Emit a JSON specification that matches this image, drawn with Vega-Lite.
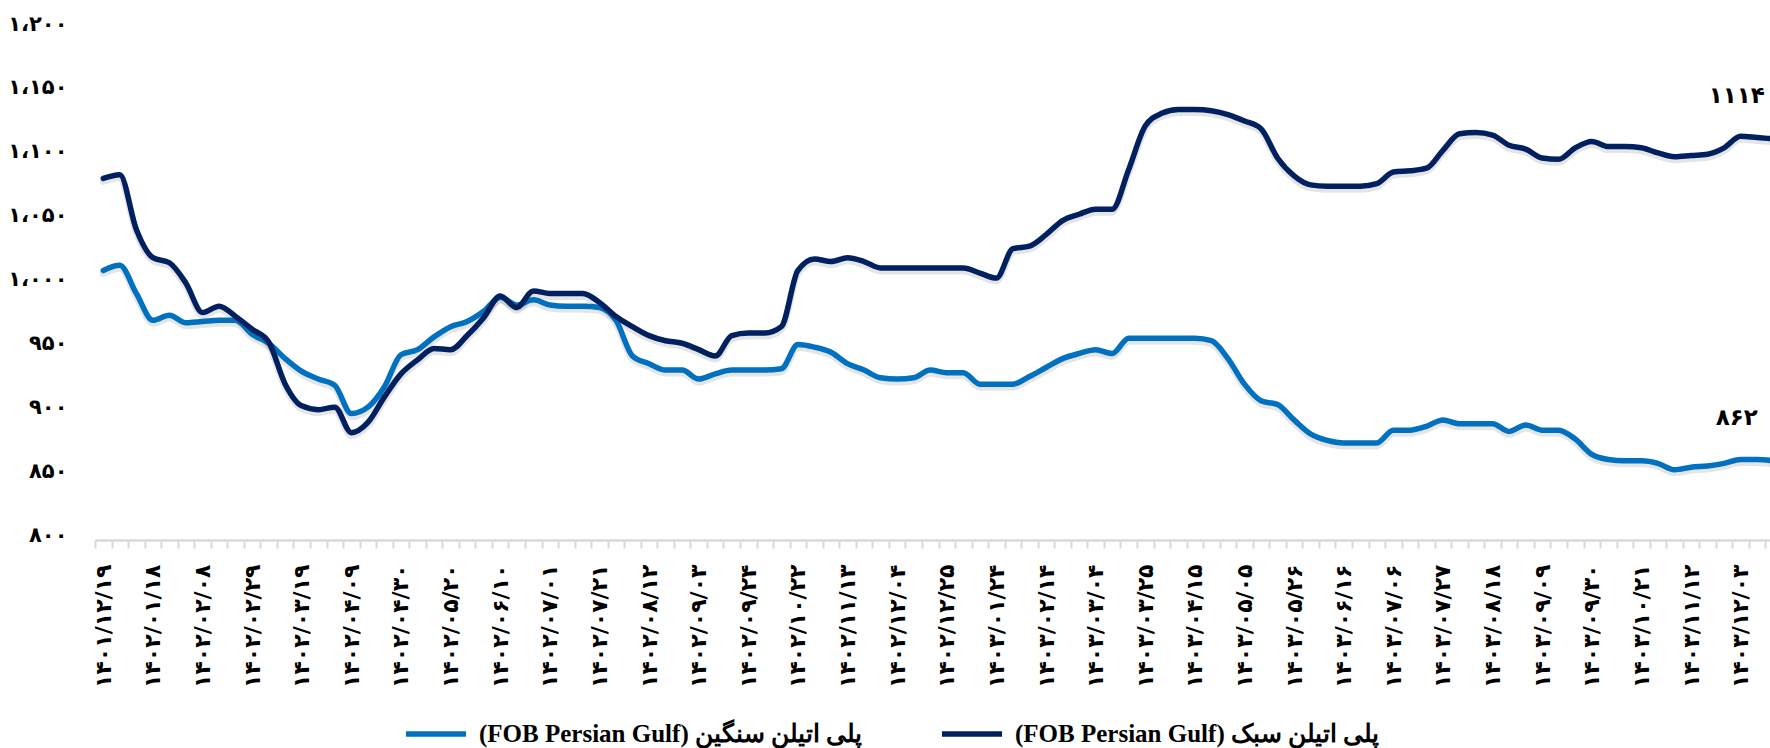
{
  "$schema": "https://vega.github.io/schema/vega-lite/v6.json",
  "width": 1675,
  "height": 511,
  "autosize": {"type": "none"},
  "padding": {"left": 95, "top": 29, "right": 0, "bottom": 208},
  "background": "white",
  "config": {"view": {"stroke": null}, "font": "DejaVu Sans"},
  "datasets": {
    "prices": [
      {"date":"۱۴۰۱/۱۲/۱۹","series":"سبک","price":1083},{"date":"۱۴۰۱/۱۲/۲۶","series":"سبک","price":1086},{"date":"۱۴۰۲/۰۱/۱۱","series":"سبک","price":1043},{"date":"۱۴۰۲/۰۱/۱۸","series":"سبک","price":1021},{"date":"۱۴۰۲/۰۱/۲۵","series":"سبک","price":1017},{"date":"۱۴۰۲/۰۲/۰۱","series":"سبک","price":1001},{"date":"۱۴۰۲/۰۲/۰۸","series":"سبک","price":978},{"date":"۱۴۰۲/۰۲/۱۵","series":"سبک","price":983},{"date":"۱۴۰۲/۰۲/۲۲","series":"سبک","price":975},{"date":"۱۴۰۲/۰۲/۲۹","series":"سبک","price":965},
      {"date":"۱۴۰۲/۰۳/۰۵","series":"سبک","price":955},{"date":"۱۴۰۲/۰۳/۱۲","series":"سبک","price":922},{"date":"۱۴۰۲/۰۳/۱۹","series":"سبک","price":905},{"date":"۱۴۰۲/۰۳/۲۶","series":"سبک","price":902},{"date":"۱۴۰۲/۰۴/۰۲","series":"سبک","price":904},{"date":"۱۴۰۲/۰۴/۰۹","series":"سبک","price":884},{"date":"۱۴۰۲/۰۴/۱۶","series":"سبک","price":892},{"date":"۱۴۰۲/۰۴/۲۳","series":"سبک","price":912},{"date":"۱۴۰۲/۰۴/۳۰","series":"سبک","price":930},{"date":"۱۴۰۲/۰۵/۰۶","series":"سبک","price":941},
      {"date":"۱۴۰۲/۰۵/۱۳","series":"سبک","price":950},{"date":"۱۴۰۲/۰۵/۲۰","series":"سبک","price":949},{"date":"۱۴۰۲/۰۵/۲۷","series":"سبک","price":960},{"date":"۱۴۰۲/۰۶/۰۳","series":"سبک","price":974},{"date":"۱۴۰۲/۰۶/۱۰","series":"سبک","price":991},{"date":"۱۴۰۲/۰۶/۱۷","series":"سبک","price":982},{"date":"۱۴۰۲/۰۶/۲۴","series":"سبک","price":995},{"date":"۱۴۰۲/۰۷/۰۱","series":"سبک","price":993},{"date":"۱۴۰۲/۰۷/۰۷","series":"سبک","price":993},{"date":"۱۴۰۲/۰۷/۱۴","series":"سبک","price":993},
      {"date":"۱۴۰۲/۰۷/۲۱","series":"سبک","price":986},{"date":"۱۴۰۲/۰۷/۲۸","series":"سبک","price":975},{"date":"۱۴۰۲/۰۸/۰۵","series":"سبک","price":967},{"date":"۱۴۰۲/۰۸/۱۲","series":"سبک","price":960},{"date":"۱۴۰۲/۰۸/۱۹","series":"سبک","price":956},{"date":"۱۴۰۲/۰۸/۲۶","series":"سبک","price":954},{"date":"۱۴۰۲/۰۹/۰۳","series":"سبک","price":949},{"date":"۱۴۰۲/۰۹/۱۰","series":"سبک","price":944},{"date":"۱۴۰۲/۰۹/۱۷","series":"سبک","price":960},{"date":"۱۴۰۲/۰۹/۲۴","series":"سبک","price":962},
      {"date":"۱۴۰۲/۱۰/۰۱","series":"سبک","price":962},{"date":"۱۴۰۲/۱۰/۱۵","series":"سبک","price":967},{"date":"۱۴۰۲/۱۰/۲۲","series":"سبک","price":1011},{"date":"۱۴۰۲/۱۰/۲۹","series":"سبک","price":1020},{"date":"۱۴۰۲/۱۱/۰۶","series":"سبک","price":1018},{"date":"۱۴۰۲/۱۱/۱۳","series":"سبک","price":1021},{"date":"۱۴۰۲/۱۱/۲۰","series":"سبک","price":1018},{"date":"۱۴۰۲/۱۱/۲۷","series":"سبک","price":1013},{"date":"۱۴۰۲/۱۲/۰۴","series":"سبک","price":1013},{"date":"۱۴۰۲/۱۲/۱۱","series":"سبک","price":1013},
      {"date":"۱۴۰۲/۱۲/۱۸","series":"سبک","price":1013},{"date":"۱۴۰۲/۱۲/۲۵","series":"سبک","price":1013},{"date":"۱۴۰۳/۰۱/۱۰","series":"سبک","price":1013},{"date":"۱۴۰۳/۰۱/۱۷","series":"سبک","price":1009},{"date":"۱۴۰۳/۰۱/۲۴","series":"سبک","price":1005},{"date":"۱۴۰۳/۰۱/۳۱","series":"سبک","price":1028},{"date":"۱۴۰۳/۰۲/۰۷","series":"سبک","price":1030},{"date":"۱۴۰۳/۰۲/۱۴","series":"سبک","price":1039},{"date":"۱۴۰۳/۰۲/۲۱","series":"سبک","price":1050},{"date":"۱۴۰۳/۰۲/۲۸","series":"سبک","price":1055},
      {"date":"۱۴۰۳/۰۳/۰۴","series":"سبک","price":1059},{"date":"۱۴۰۳/۰۳/۱۱","series":"سبک","price":1059},{"date":"۱۴۰۳/۰۳/۱۸","series":"سبک","price":1090},{"date":"۱۴۰۳/۰۳/۲۵","series":"سبک","price":1124},{"date":"۱۴۰۳/۰۴/۰۱","series":"سبک","price":1134},{"date":"۱۴۰۳/۰۴/۰۸","series":"سبک","price":1137},{"date":"۱۴۰۳/۰۴/۱۵","series":"سبک","price":1137},{"date":"۱۴۰۳/۰۴/۲۲","series":"سبک","price":1136},{"date":"۱۴۰۳/۰۴/۲۹","series":"سبک","price":1133},{"date":"۱۴۰۳/۰۵/۰۵","series":"سبک","price":1128},
      {"date":"۱۴۰۳/۰۵/۱۲","series":"سبک","price":1122},{"date":"۱۴۰۳/۰۵/۱۹","series":"سبک","price":1099},{"date":"۱۴۰۳/۰۵/۲۶","series":"سبک","price":1085},{"date":"۱۴۰۳/۰۶/۰۲","series":"سبک","price":1078},{"date":"۱۴۰۳/۰۶/۰۹","series":"سبک","price":1077},{"date":"۱۴۰۳/۰۶/۱۶","series":"سبک","price":1077},{"date":"۱۴۰۳/۰۶/۲۳","series":"سبک","price":1077},{"date":"۱۴۰۳/۰۶/۳۰","series":"سبک","price":1079},{"date":"۱۴۰۳/۰۷/۰۶","series":"سبک","price":1088},{"date":"۱۴۰۳/۰۷/۱۳","series":"سبک","price":1089},
      {"date":"۱۴۰۳/۰۷/۲۰","series":"سبک","price":1091},{"date":"۱۴۰۳/۰۷/۲۷","series":"سبک","price":1105},{"date":"۱۴۰۳/۰۸/۰۴","series":"سبک","price":1118},{"date":"۱۴۰۳/۰۸/۱۱","series":"سبک","price":1119},{"date":"۱۴۰۳/۰۸/۱۸","series":"سبک","price":1117},{"date":"۱۴۰۳/۰۸/۲۵","series":"سبک","price":1109},{"date":"۱۴۰۳/۰۹/۰۲","series":"سبک","price":1106},{"date":"۱۴۰۳/۰۹/۰۹","series":"سبک","price":1099},{"date":"۱۴۰۳/۰۹/۱۶","series":"سبک","price":1098},{"date":"۱۴۰۳/۰۹/۲۳","series":"سبک","price":1107},
      {"date":"۱۴۰۳/۰۹/۳۰","series":"سبک","price":1112},{"date":"۱۴۰۳/۱۰/۰۷","series":"سبک","price":1108},{"date":"۱۴۰۳/۱۰/۱۴","series":"سبک","price":1108},{"date":"۱۴۰۳/۱۰/۲۱","series":"سبک","price":1107},{"date":"۱۴۰۳/۱۰/۲۸","series":"سبک","price":1103},{"date":"۱۴۰۳/۱۱/۰۵","series":"سبک","price":1100},{"date":"۱۴۰۳/۱۱/۱۲","series":"سبک","price":1101},{"date":"۱۴۰۳/۱۱/۱۹","series":"سبک","price":1102},{"date":"۱۴۰۳/۱۱/۲۶","series":"سبک","price":1107},{"date":"۱۴۰۳/۱۲/۰۳","series":"سبک","price":1116},
      {"date":"۱۴۰۳/۱۲/۱۰","series":"سبک","price":1115},{"date":"۱۴۰۳/۱۲/۱۷","series":"سبک","price":1114},

      {"date":"۱۴۰۱/۱۲/۱۹","series":"سنگین","price":1011},{"date":"۱۴۰۱/۱۲/۲۶","series":"سنگین","price":1015},{"date":"۱۴۰۲/۰۱/۱۱","series":"سنگین","price":993},{"date":"۱۴۰۲/۰۱/۱۸","series":"سنگین","price":972},{"date":"۱۴۰۲/۰۱/۲۵","series":"سنگین","price":976},{"date":"۱۴۰۲/۰۲/۰۱","series":"سنگین","price":970},{"date":"۱۴۰۲/۰۲/۰۸","series":"سنگین","price":971},{"date":"۱۴۰۲/۰۲/۱۵","series":"سنگین","price":972},{"date":"۱۴۰۲/۰۲/۲۲","series":"سنگین","price":972},{"date":"۱۴۰۲/۰۲/۲۹","series":"سنگین","price":961},
      {"date":"۱۴۰۲/۰۳/۰۵","series":"سنگین","price":954},{"date":"۱۴۰۲/۰۳/۱۲","series":"سنگین","price":942},{"date":"۱۴۰۲/۰۳/۱۹","series":"سنگین","price":932},{"date":"۱۴۰۲/۰۳/۲۶","series":"سنگین","price":926},{"date":"۱۴۰۲/۰۴/۰۲","series":"سنگین","price":921},{"date":"۱۴۰۲/۰۴/۰۹","series":"سنگین","price":899},{"date":"۱۴۰۲/۰۴/۱۶","series":"سنگین","price":904},{"date":"۱۴۰۲/۰۴/۲۳","series":"سنگین","price":920},{"date":"۱۴۰۲/۰۴/۳۰","series":"سنگین","price":945},{"date":"۱۴۰۲/۰۵/۰۶","series":"سنگین","price":949},
      {"date":"۱۴۰۲/۰۵/۱۳","series":"سنگین","price":959},{"date":"۱۴۰۲/۰۵/۲۰","series":"سنگین","price":967},{"date":"۱۴۰۲/۰۵/۲۷","series":"سنگین","price":971},{"date":"۱۴۰۲/۰۶/۰۳","series":"سنگین","price":979},{"date":"۱۴۰۲/۰۶/۱۰","series":"سنگین","price":990},{"date":"۱۴۰۲/۰۶/۱۷","series":"سنگین","price":984},{"date":"۱۴۰۲/۰۶/۲۴","series":"سنگین","price":988},{"date":"۱۴۰۲/۰۷/۰۱","series":"سنگین","price":984},{"date":"۱۴۰۲/۰۷/۰۷","series":"سنگین","price":983},{"date":"۱۴۰۲/۰۷/۱۴","series":"سنگین","price":983},
      {"date":"۱۴۰۲/۰۷/۲۱","series":"سنگین","price":982},{"date":"۱۴۰۲/۰۷/۲۸","series":"سنگین","price":972},{"date":"۱۴۰۲/۰۸/۰۵","series":"سنگین","price":944},{"date":"۱۴۰۲/۰۸/۱۲","series":"سنگین","price":938},{"date":"۱۴۰۲/۰۸/۱۹","series":"سنگین","price":933},{"date":"۱۴۰۲/۰۸/۲۶","series":"سنگین","price":933},{"date":"۱۴۰۲/۰۹/۰۳","series":"سنگین","price":926},{"date":"۱۴۰۲/۰۹/۱۰","series":"سنگین","price":930},{"date":"۱۴۰۲/۰۹/۱۷","series":"سنگین","price":933},{"date":"۱۴۰۲/۰۹/۲۴","series":"سنگین","price":933},
      {"date":"۱۴۰۲/۱۰/۰۱","series":"سنگین","price":933},{"date":"۱۴۰۲/۱۰/۱۵","series":"سنگین","price":934},{"date":"۱۴۰۲/۱۰/۲۲","series":"سنگین","price":953},{"date":"۱۴۰۲/۱۰/۲۹","series":"سنگین","price":951},{"date":"۱۴۰۲/۱۱/۰۶","series":"سنگین","price":947},{"date":"۱۴۰۲/۱۱/۱۳","series":"سنگین","price":938},{"date":"۱۴۰۲/۱۱/۲۰","series":"سنگین","price":933},{"date":"۱۴۰۲/۱۱/۲۷","series":"سنگین","price":927},{"date":"۱۴۰۲/۱۲/۰۴","series":"سنگین","price":926},{"date":"۱۴۰۲/۱۲/۱۱","series":"سنگین","price":927},
      {"date":"۱۴۰۲/۱۲/۱۸","series":"سنگین","price":933},{"date":"۱۴۰۲/۱۲/۲۵","series":"سنگین","price":931},{"date":"۱۴۰۳/۰۱/۱۰","series":"سنگین","price":931},{"date":"۱۴۰۳/۰۱/۱۷","series":"سنگین","price":922},{"date":"۱۴۰۳/۰۱/۲۴","series":"سنگین","price":922},{"date":"۱۴۰۳/۰۱/۳۱","series":"سنگین","price":922},{"date":"۱۴۰۳/۰۲/۰۷","series":"سنگین","price":928},{"date":"۱۴۰۳/۰۲/۱۴","series":"سنگین","price":935},{"date":"۱۴۰۳/۰۲/۲۱","series":"سنگین","price":942},{"date":"۱۴۰۳/۰۲/۲۸","series":"سنگین","price":946},
      {"date":"۱۴۰۳/۰۳/۰۴","series":"سنگین","price":949},{"date":"۱۴۰۳/۰۳/۱۱","series":"سنگین","price":946},{"date":"۱۴۰۳/۰۳/۱۸","series":"سنگین","price":958},{"date":"۱۴۰۳/۰۳/۲۵","series":"سنگین","price":958},{"date":"۱۴۰۳/۰۴/۰۱","series":"سنگین","price":958},{"date":"۱۴۰۳/۰۴/۰۸","series":"سنگین","price":958},{"date":"۱۴۰۳/۰۴/۱۵","series":"سنگین","price":958},{"date":"۱۴۰۳/۰۴/۲۲","series":"سنگین","price":956},{"date":"۱۴۰۳/۰۴/۲۹","series":"سنگین","price":942},{"date":"۱۴۰۳/۰۵/۰۵","series":"سنگین","price":922},
      {"date":"۱۴۰۳/۰۵/۱۲","series":"سنگین","price":909},{"date":"۱۴۰۳/۰۵/۱۹","series":"سنگین","price":906},{"date":"۱۴۰۳/۰۵/۲۶","series":"سنگین","price":894},{"date":"۱۴۰۳/۰۶/۰۲","series":"سنگین","price":883},{"date":"۱۴۰۳/۰۶/۰۹","series":"سنگین","price":878},{"date":"۱۴۰۳/۰۶/۱۶","series":"سنگین","price":876},{"date":"۱۴۰۳/۰۶/۲۳","series":"سنگین","price":876},{"date":"۱۴۰۳/۰۶/۳۰","series":"سنگین","price":876},{"date":"۱۴۰۳/۰۷/۰۶","series":"سنگین","price":886},{"date":"۱۴۰۳/۰۷/۱۳","series":"سنگین","price":886},
      {"date":"۱۴۰۳/۰۷/۲۰","series":"سنگین","price":889},{"date":"۱۴۰۳/۰۷/۲۷","series":"سنگین","price":894},{"date":"۱۴۰۳/۰۸/۰۴","series":"سنگین","price":891},{"date":"۱۴۰۳/۰۸/۱۱","series":"سنگین","price":891},{"date":"۱۴۰۳/۰۸/۱۸","series":"سنگین","price":891},{"date":"۱۴۰۳/۰۸/۲۵","series":"سنگین","price":885},{"date":"۱۴۰۳/۰۹/۰۲","series":"سنگین","price":890},{"date":"۱۴۰۳/۰۹/۰۹","series":"سنگین","price":886},{"date":"۱۴۰۳/۰۹/۱۶","series":"سنگین","price":886},{"date":"۱۴۰۳/۰۹/۲۳","series":"سنگین","price":879},
      {"date":"۱۴۰۳/۰۹/۳۰","series":"سنگین","price":867},{"date":"۱۴۰۳/۱۰/۰۷","series":"سنگین","price":863},{"date":"۱۴۰۳/۱۰/۱۴","series":"سنگین","price":862},{"date":"۱۴۰۳/۱۰/۲۱","series":"سنگین","price":862},{"date":"۱۴۰۳/۱۰/۲۸","series":"سنگین","price":860},{"date":"۱۴۰۳/۱۱/۰۵","series":"سنگین","price":855},{"date":"۱۴۰۳/۱۱/۱۲","series":"سنگین","price":857},{"date":"۱۴۰۳/۱۱/۱۹","series":"سنگین","price":858},{"date":"۱۴۰۳/۱۱/۲۶","series":"سنگین","price":860},{"date":"۱۴۰۳/۱۲/۰۳","series":"سنگین","price":863},
      {"date":"۱۴۰۳/۱۲/۱۰","series":"سنگین","price":863},{"date":"۱۴۰۳/۱۲/۱۷","series":"سنگین","price":862}
    ],
    "ends": [
      {"date":"۱۴۰۳/۱۲/۱۷","price":1114,"label":"۱۱۱۴"},
      {"date":"۱۴۰۳/۱۲/۱۷","price":862,"label":"۸۶۲"}
    ]
  },
  "encoding": {
    "x": {
      "field": "date", "type": "ordinal", "sort": null,
      "scale": {"range": [0, 1687], "paddingInner": 0, "paddingOuter": 0},
      "axis": {
        "title": null,
        "domainColor": "#d9d9d9", "domainWidth": 2.5,
        "tickColor": "#d9d9d9", "tickWidth": 2, "tickSize": 8, "tickBand": "extent",
        "labelAngle": -90, "labelAlign": "right", "labelBaseline": "middle",
        "labelPadding": 16, "labelFontSize": 22, "labelFontWeight": "bold", "labelColor": "#000000",
        "labelFont": "DejaVu Sans", "labelOverlap": false, "labelLimit": 300,
        "labelExpr": "indexof(['۱۴۰۱/۱۲/۱۹','۱۴۰۲/۰۱/۱۸','۱۴۰۲/۰۲/۰۸','۱۴۰۲/۰۲/۲۹','۱۴۰۲/۰۳/۱۹','۱۴۰۲/۰۴/۰۹','۱۴۰۲/۰۴/۳۰','۱۴۰۲/۰۵/۲۰','۱۴۰۲/۰۶/۱۰','۱۴۰۲/۰۷/۰۱','۱۴۰۲/۰۷/۲۱','۱۴۰۲/۰۸/۱۲','۱۴۰۲/۰۹/۰۳','۱۴۰۲/۰۹/۲۴','۱۴۰۲/۱۰/۲۲','۱۴۰۲/۱۱/۱۳','۱۴۰۲/۱۲/۰۴','۱۴۰۲/۱۲/۲۵','۱۴۰۳/۰۱/۲۴','۱۴۰۳/۰۲/۱۴','۱۴۰۳/۰۳/۰۴','۱۴۰۳/۰۳/۲۵','۱۴۰۳/۰۴/۱۵','۱۴۰۳/۰۵/۰۵','۱۴۰۳/۰۵/۲۶','۱۴۰۳/۰۶/۱۶','۱۴۰۳/۰۷/۰۶','۱۴۰۳/۰۷/۲۷','۱۴۰۳/۰۸/۱۸','۱۴۰۳/۰۹/۰۹','۱۴۰۳/۰۹/۳۰','۱۴۰۳/۱۰/۲۱','۱۴۰۳/۱۱/۱۲','۱۴۰۳/۱۲/۰۳'], datum.value) >= 0 ? datum.label : ''"
      }
    },
    "y": {
      "field": "price", "type": "quantitative",
      "scale": {"domain": [800, 1200], "nice": false, "zero": false},
      "axis": {
        "title": null, "domain": false, "ticks": false, "grid": false,
        "values": [800, 850, 900, 950, 1000, 1050, 1100, 1150, 1200],
        "labelPadding": 28, "labelOffset": -5, "labelFontSize": 21, "labelFontWeight": "bold",
        "labelColor": "#000000", "labelFont": "DejaVu Sans",
        "labelExpr": "datum.value == 800 ? '۸۰۰' : datum.value == 850 ? '۸۵۰' : datum.value == 900 ? '۹۰۰' : datum.value == 950 ? '۹۵۰' : datum.value == 1000 ? '۱،۰۰۰' : datum.value == 1050 ? '۱،۰۵۰' : datum.value == 1100 ? '۱،۱۰۰' : datum.value == 1150 ? '۱،۱۵۰' : '۱،۲۰۰'"
      }
    }
  },
  "layer": [
    {
      "data": {"name": "prices"},
      "mark": {"type": "line", "strokeWidth": 7, "interpolate": "monotone", "strokeCap": "round", "strokeJoin": "round", "color": "#000000", "opacity": 0.1, "yOffset": 3},
      "encoding": {
        "detail": {"field": "series", "type": "nominal"}
      }
    },
    {
      "data": {"name": "prices"},
      "transform": [{"filter": "datum.series == 'سنگین'"}],
      "mark": {"type": "line", "strokeWidth": 5.5, "interpolate": "monotone", "strokeCap": "round", "strokeJoin": "round"},
      "encoding": {
        "color": {
          "field": "series", "type": "nominal",
          "scale": {"domain": ["سنگین", "سبک"], "range": ["#0070C0", "#002060"]},
          "legend": {
            "title": null, "orient": "none", "direction": "horizontal",
            "legendX": 308, "legendY": 672, "padding": 0,
            "symbolType": "stroke", "symbolSize": 3600, "symbolStrokeWidth": 5.5,
            "labelFont": "Liberation Serif", "labelFontSize": 25, "labelFontWeight": "bold",
            "labelColor": "#000000", "labelLimit": 1000, "labelOffset": 10, "columnPadding": 68,
            "labelExpr": "datum.label == 'سنگین' ? '(FOB Persian Gulf) پلی اتیلن سنگین' : '(FOB Persian Gulf) پلی اتیلن سبک'"
          }
        }
      }
    },
    {
      "data": {"name": "prices"},
      "transform": [{"filter": "datum.series == 'سبک'"}],
      "mark": {"type": "line", "strokeWidth": 5.5, "interpolate": "monotone", "strokeCap": "round", "strokeJoin": "round"},
      "encoding": {
        "color": {"field": "series", "type": "nominal"}
      }
    },
    {
      "data": {"name": "ends"},
      "mark": {"type": "text", "dx": -37, "dy": -43, "fontSize": 23, "fontWeight": "bold", "font": "DejaVu Sans", "color": "#000000", "baseline": "middle", "align": "center"},
      "encoding": {
        "text": {"field": "label", "type": "nominal"}
      }
    }
  ]
}
